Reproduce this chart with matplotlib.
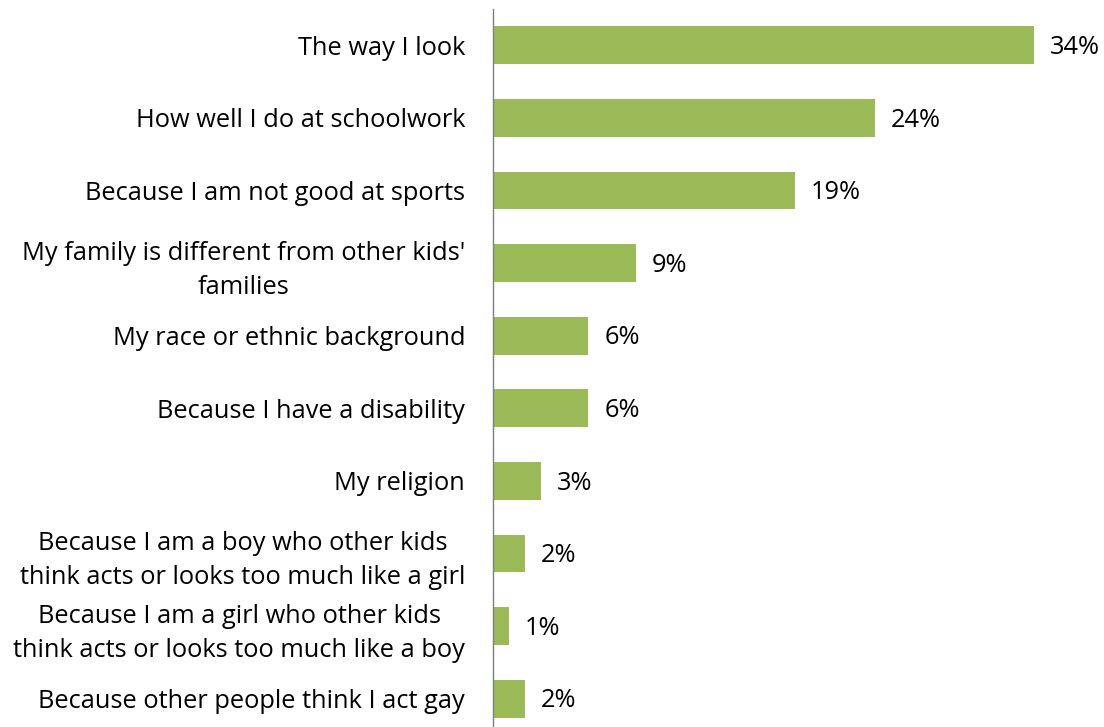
import matplotlib.pyplot as plt

categories = [
    "The way I look",
    "How well I do at schoolwork",
    "Because I am not good at sports",
    "My family is different from other kids'\nfamilies",
    "My race or ethnic background",
    "Because I have a disability",
    "My religion",
    "Because I am a boy who other kids\nthink acts or looks too much like a girl",
    "Because I am a girl who other kids\nthink acts or looks too much like a boy",
    "Because other people think I act gay",
]
values = [34, 24, 19, 9, 6, 6, 3, 2, 1, 2]

plt.rcParams['font.family'] = ['Open Sans', 'DejaVu Sans']
fs = 18.3

fig = plt.figure(figsize=(11.04, 7.27), dpi=100)
ax = fig.add_axes([493 / 1104, -8 / 727, 1 - 493 / 1104, 1 + 8 / 727 - 9 / 727])

y = list(range(len(categories)))
ax.barh(y, values, height=0.52, color="#9BBB59")
ax.set_ylim(len(categories) - 0.5, -0.5)
ax.set_xlim(0, 38.4)

for yi, v in zip(y, values):
    ax.text(v + 1.0, yi + 0.03, f"{v}%", va="center", ha="left", fontsize=fs, color="#000000")

ax.set_yticks(y)
labels = ax.set_yticklabels(categories, fontsize=fs, linespacing=1.45)
for lab in labels:
    lab.set_multialignment("center")
ax.tick_params(axis="y", length=0, pad=20)
ax.set_xticks([])
for s in ["top", "right", "bottom"]:
    ax.spines[s].set_visible(False)
ax.spines["left"].set_color("#7f7f7f")
ax.spines["left"].set_linewidth(1)

fig.savefig("out.png", dpi=100)
